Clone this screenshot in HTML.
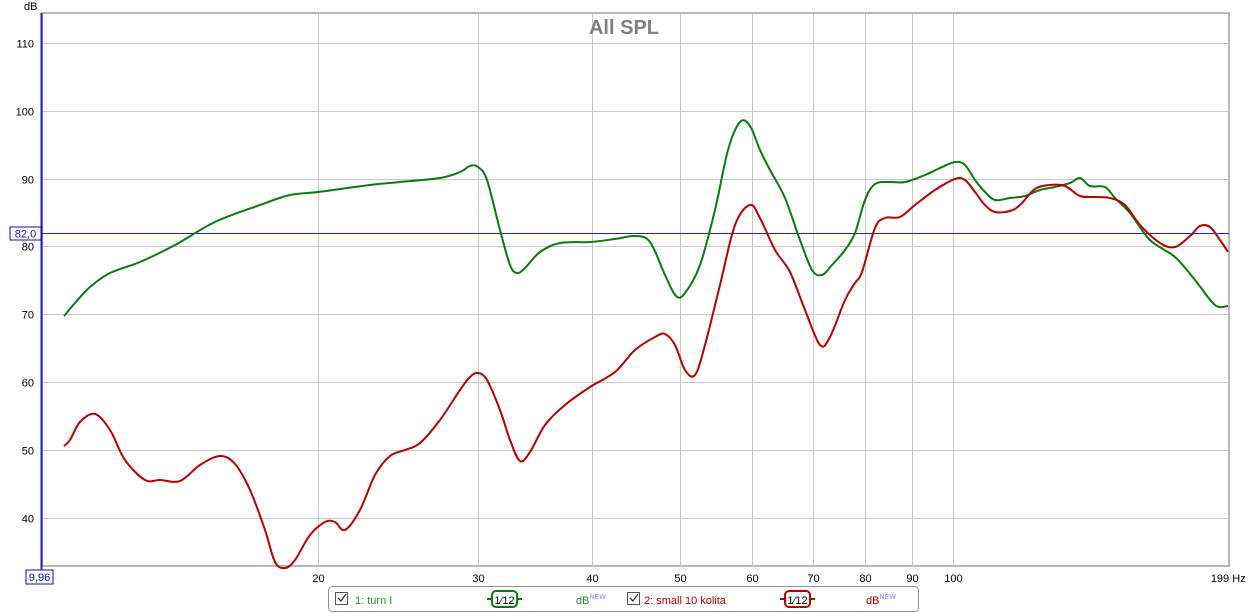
<!DOCTYPE html>
<html><head><meta charset="utf-8"><style>
body{margin:0;background:#fff;font-family:"Liberation Sans",Arial,sans-serif;}
svg{display:block}
</style></head><body>
<svg id="s" width="1248" height="613" xmlns="http://www.w3.org/2000/svg" font-family="Liberation Sans, Arial, sans-serif">
<rect width="1248" height="613" fill="#fff"/>
<rect x="42" y="13" width="1187" height="553" fill="none" stroke="#b8b8b8" stroke-width="2"/>
<g id="grid" stroke="#c8c8c8" stroke-width="1"></g>
<line x1="42" y1="233.5" x2="1229" y2="233.5" stroke="#2020d0" stroke-width="1"/>
<line x1="41.5" y1="13" x2="41.5" y2="574" stroke="#2020c0" stroke-width="2"/>
<text x="624" y="34" font-size="20" font-weight="bold" fill="#808080" text-anchor="middle">All SPL</text>
<text x="24" y="10" font-size="11" fill="#000">dB</text>
<g id="ylab" font-size="11" fill="#000" text-anchor="end"></g>
<g id="xlab" font-size="11" fill="#000" text-anchor="middle"></g>
<text x="1220" y="582" font-size="11" text-anchor="middle">199</text>
<text x="1239" y="582" font-size="11" text-anchor="middle">Hz</text>
<rect x="10" y="227" width="31" height="13" fill="#fff" stroke="#1010a0"/>
<text x="25.5" y="237.5" font-size="11" fill="#1010a0" text-anchor="middle">82,0</text>
<rect x="26" y="570" width="27" height="14" fill="#fff" stroke="#1010a0"/>
<text x="39.5" y="581" font-size="11" fill="#1010a0" text-anchor="middle">9,96</text>
<path id="g" fill="none" stroke="#0a7a0a" stroke-width="2"/>
<path id="r" fill="none" stroke="#b00000" stroke-width="2"/>
<rect x="328.5" y="586.5" width="590" height="25" rx="4" fill="#fff" stroke="#909090"/>
<rect x="335.5" y="592.5" width="12" height="12" fill="#fff" stroke="#555"/>
<path d="M338 598 l3 3 l5 -7" fill="none" stroke="#333" stroke-width="1.3"/>
<text x="355" y="604" font-size="11" fill="#2a8a2a">1: turn I</text>
<line x1="487" y1="599" x2="522" y2="599" stroke="#0a7a0a" stroke-width="2"/>
<rect x="492" y="591" width="25" height="16" rx="4" fill="#fff" stroke="#0a7a0a" stroke-width="2"/>
<text x="504.5" y="604" font-size="11" text-anchor="middle">1⁄12</text>
<text x="576" y="604" font-size="11" fill="#2a8a2a">dB<tspan font-size="7" dy="-5" fill="#8080ff">NEW</tspan></text>
<rect x="627.5" y="592.5" width="12" height="12" fill="#fff" stroke="#555"/>
<path d="M630 598 l3 3 l5 -7" fill="none" stroke="#333" stroke-width="1.3"/>
<text x="644" y="604" font-size="11" fill="#b00000">2: small 10 kolita</text>
<line x1="780" y1="599" x2="815" y2="599" stroke="#b00000" stroke-width="2"/>
<rect x="785" y="591" width="25" height="16" rx="4" fill="#fff" stroke="#b00000" stroke-width="2"/>
<text x="797.5" y="604" font-size="11" text-anchor="middle">1⁄12</text>
<text x="866" y="604" font-size="11" fill="#b00000">dB<tspan font-size="7" dy="-5" fill="#8080ff">NEW</tspan></text>
</svg>
<script>
const NS="http://www.w3.org/2000/svg";
function el(t,a,p,txt){const e=document.createElementNS(NS,t);for(const k in a)e.setAttribute(k,a[k]);if(txt)e.textContent=txt;p.appendChild(e);return e;}
const grid=document.getElementById('grid'),yl=document.getElementById('ylab'),xl=document.getElementById('xlab');
for(let d=40;d<=110;d+=10){const y=Math.round(43+(110-d)*6.78)+0.5;el('line',{x1:42,y1:y,x2:1229,y2:y},grid);el('text',{x:34,y:y+4},yl,String(d));}
const fx=f=>318+909*Math.log10(f/20);
[20,30,40,50,60,70,80,90,100].forEach(f=>{const x=Math.round(fx(f))+0.5;el('line',{x1:x,y1:14,x2:x,y2:566},grid);el('text',{x:x,y:582},xl,String(f));});
function path(pts){let d='M'+pts[0][0]+' '+pts[0][1];for(let i=0;i<pts.length-1;i++){const p0=pts[Math.max(0,i-1)],p1=pts[i],p2=pts[i+1],p3=pts[Math.min(pts.length-1,i+2)];
const c1=[p1[0]+(p2[0]-p0[0])/6,p1[1]+(p2[1]-p0[1])/6],c2=[p2[0]-(p3[0]-p1[0])/6,p2[1]-(p3[1]-p1[1])/6];d+=` C${c1[0]} ${c1[1]} ${c2[0]} ${c2[1]} ${p2[0]} ${p2[1]}`;}return d;}
const G=[[64,316],[75,303],[90,287],[110,273],[140,262],[175,245],[215,222],[260,205],[290,195],[318,192],[370,185],[400,182],[440,178],[460,172],[470,166],[478,167],[487,180],[500,230],[510,265],[517,273],[525,268],[540,252],[560,243],[590,242],[615,239],[635,236],[650,242],[665,275],[676,296],[685,293],[700,265],[715,210],[728,150],[740,122],[750,126],[760,150],[770,170],[785,198],[800,240],[812,270],[822,275],[832,265],[845,250],[855,233],[865,200],[875,184],[890,182],[905,182],[925,175],[940,168],[955,162],[965,165],[975,180],[985,192],[995,200],[1010,198],[1025,196],[1040,190],[1055,187],[1070,183],[1080,178],[1090,186],[1105,187],[1115,198],[1130,213],[1150,240],[1175,257],[1195,280],[1215,305],[1228,306]];
const R=[[64,446],[70,440],[80,422],[95,414],[110,430],[125,460],[145,480],[160,480],[180,481],[200,465],[220,456],[235,464],[250,490],[265,530],[275,562],[285,568],[295,560],[310,535],[325,522],[335,522],[345,530],[360,510],[375,475],[390,456],[405,450],[420,443],[440,420],[460,390],[470,377],[478,373],[487,380],[500,410],[510,440],[520,461],[530,452],[545,425],[565,405],[590,387],[615,372],[635,350],[655,337],[665,334],[675,345],[685,370],[695,375],[705,345],[720,285],[735,225],[750,205],[760,218],[775,250],[790,272],[805,310],[820,345],[830,337],[845,300],[855,283],[862,272],[875,228],[885,218],[900,217],[915,205],[935,190],[955,179],[965,180],[975,192],[985,205],[995,212],[1010,211],[1020,205],[1035,189],[1050,185],[1065,186],[1080,196],[1095,197],[1110,198],[1125,205],[1140,225],[1160,243],[1175,247],[1190,236],[1200,226],[1210,227],[1220,240],[1228,252]];
document.getElementById('g').setAttribute('d',path(G));
document.getElementById('r').setAttribute('d',path(R));
</script>
</body></html>
